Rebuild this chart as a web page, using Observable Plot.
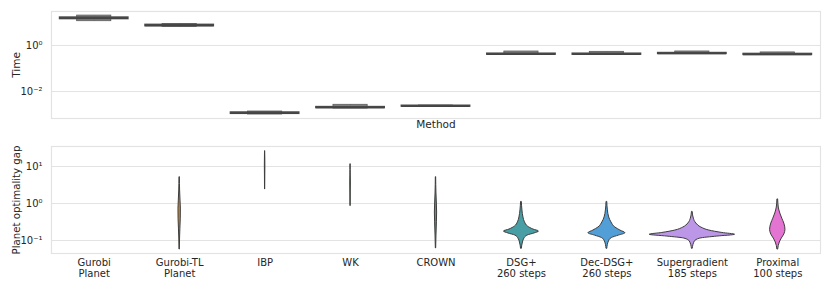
<!DOCTYPE html>
<html><head><meta charset="utf-8">
<script src="https://cdn.jsdelivr.net/npm/d3@7"></script>
<script src="https://cdn.jsdelivr.net/npm/@observablehq/plot@0.6"></script>
<style>
body{margin:0;background:#fff;font-family:"DejaVu Sans",sans-serif;}
#chart svg{display:block;overflow:visible;}
</style></head>
<body><div id="chart"></div>
<script>
// Categories
const methods = ["Gurobi\nPlanet","Gurobi-TL\nPlanet","IBP","WK","CROWN","DSG+\n260 steps","Dec-DSG+\n260 steps","Supergradient\n185 steps","Proximal\n100 steps"];
const palette = ["#f77189","#d58c32","#a4a031","#50b131","#34ae91","#37abb5","#3ba3ec","#bb89f4","#f561dd"];

// Time (seconds) box summaries
const timeMedian = [15.4, 7.4, 1.14e-3, 2.0e-3, 2.3e-3, 0.42, 0.42, 0.45, 0.41];
const timeQ1     = [14.1, 6.9, 1.07e-3, 1.9e-3, 2.2e-3, 0.40, 0.40, 0.43, 0.39];
const timeQ3     = [16.4, 7.9, 1.22e-3, 2.1e-3, 2.4e-3, 0.44, 0.44, 0.47, 0.43];
const timeLo     = [11.4, 6.5, 1.0e-3, 1.82e-3, 2.17e-3, 0.406, 0.41, 0.45, 0.406];
const timeHi     = [20.0, 8.6, 1.35e-3, 2.64e-3, 2.46e-3, 0.548, 0.53, 0.55, 0.50];

// Planet optimality gap violin profiles: [gap value, relative density]
const gapGurobiTL = [[5.04,0.004],[2.25,0.010],[1.2,0.020],[0.73,0.028],[0.39,0.026],[0.21,0.017],[0.113,0.009],[0.057,0.004]];
const gapIBP = [[25.4,0.002],[17.5,0.004],[10.6,0.006],[5.7,0.004],[2.39,0.002]];
const gapWK = [[11.3,0.002],[5.7,0.004],[3.7,0.007],[1.98,0.004],[0.85,0.002]];
const gapCROWN = [[5.04,0.004],[1.98,0.010],[1.0,0.020],[0.57,0.026],[0.31,0.021],[0.136,0.011],[0.061,0.004]];
const gapDSG = [[1.08,0.009],[0.65,0.023],[0.42,0.047],[0.31,0.082],[0.239,0.152],[0.198,0.281],[0.175,0.410],[0.155,0.304],[0.136,0.141],[0.113,0.070],[0.0883,0.035],[0.0597,0.009]];
const gapDecDSG = [[1.08,0.009],[0.65,0.023],[0.42,0.054],[0.31,0.105],[0.224,0.199],[0.186,0.316],[0.157,0.433],[0.136,0.281],[0.117,0.117],[0.094,0.047],[0.0597,0.009]];
const gapSuper = [[0.58,0.009],[0.39,0.035],[0.288,0.094],[0.224,0.211],[0.186,0.398],[0.160,0.703],[0.143,1.0],[0.128,0.585],[0.113,0.187],[0.094,0.059],[0.0597,0.009]];
const gapProx = [[1.26,0.009],[0.78,0.023],[0.537,0.059],[0.39,0.105],[0.288,0.152],[0.195,0.180],[0.145,0.152],[0.113,0.094],[0.0883,0.047],[0.057,0.009]];
const violins = [[1,gapGurobiTL],[2,gapIBP],[3,gapWK],[4,gapCROWN],[5,gapDSG],[6,gapDecDSG],[7,gapSuper],[8,gapProx]];

function desat(c){const h=d3.hsl(c); h.s*=0.75; return h.formatHex();}

const idx = methods.map((_, i) => i);
const boxes = idx.map(i => ({i, med: timeMedian[i], q1: timeQ1[i], q3: timeQ3[i], lo: timeLo[i], hi: timeHi[i]}));
const violinRows = violins.flatMap(([i, prof]) => prof.map(([v, d]) => ({i, v, d})));

const common = {
  width: 830, marginLeft: 51, marginRight: 10, marginTop: 11,
  style: {fontFamily: "DejaVu Sans, sans-serif", fontSize: "10px", color: "#262626", display: "block", background: "transparent", overflow: "visible"},
  x: {type: "linear", domain: [-0.5, 8.5], axis: null}
};
const gridC = "#e3e3e3";
const sup = {"-3":"10⁻³","-2":"10⁻²","-1":"10⁻¹","0":"10⁰","1":"10¹","2":"10²"};

const timePlot = Plot.plot({
  ...common, height: 135, marginBottom: 17,
  y: {type: "log", domain: [6.7e-4, 30.1]},
  marks: [
    Plot.gridY([1e-2, 1], {stroke: gridC, strokeOpacity: 1, strokeWidth: 1}),
    Plot.frame({stroke: gridC, strokeWidth: 1.2}),
    Plot.axisY({ticks: [1e-2, 1], tickFormat: d => sup[Math.round(Math.log10(d))], tickSize: 0, tickPadding: 9, fontSize: 10, label: null}),
    Plot.text(["Time"], {frameAnchor: "left", textAnchor: "middle", rotate: -90, dx: -35, fontSize: 10.5, fill: "#262626"}),
    Plot.ruleX(boxes, {x: "i", y1: "lo", y2: "hi", stroke: "#4a4a4a", strokeWidth: 1}),
    Plot.rect(boxes, {x1: d => d.i - 0.2, x2: d => d.i + 0.2, y1: "lo", y2: "hi", fill: "#8a8a8a", stroke: "#5a5a5a", strokeWidth: 0.8}),
    Plot.rect(boxes, {x1: d => d.i - 0.4, x2: d => d.i + 0.4, y1: "q1", y2: "q3", fill: "#555", stroke: "#4a4a4a", strokeWidth: 1.5}),
    Plot.ruleY(boxes, {y: "med", x1: d => d.i - 0.4, x2: d => d.i + 0.4, stroke: "#444", strokeWidth: 1.5}),
    Plot.text(["Method"], {frameAnchor: "bottom", dy: 2, lineAnchor: "top", fontSize: 10.5, fill: "#262626"})
  ]
});

const gapPlot = Plot.plot({
  ...common, height: 156, marginBottom: 38,
  y: {type: "log", domain: [0.0446, 34.7]},
  marks: [
    Plot.gridY([0.1, 1, 10], {stroke: gridC, strokeOpacity: 1, strokeWidth: 1}),
    Plot.frame({stroke: gridC, strokeWidth: 1.2}),
    Plot.axisY({ticks: [0.1, 1, 10], tickFormat: d => sup[Math.round(Math.log10(d))], tickSize: 0, tickPadding: 9, fontSize: 10, label: null}),
    Plot.text(["Planet optimality gap"], {frameAnchor: "left", textAnchor: "middle", rotate: -90, dx: -35, fontSize: 10.2, fill: "#262626"}),
    Plot.axisX({ticks: idx, tickFormat: i => methods[i], tickSize: 0, tickPadding: 5, fontSize: 10, label: null, lineHeight: 1.1}),
    Plot.areaX(violinRows, {z: "i", y: "v", x1: d => d.i - d.d * 0.5, x2: d => d.i + d.d * 0.5,
      fill: d => desat(palette[d.i]), stroke: "#3d3d3d", strokeWidth: 1, curve: "monotone-y"})
  ]
});

document.getElementById("chart").append(timePlot, gapPlot);
</script></body></html>
